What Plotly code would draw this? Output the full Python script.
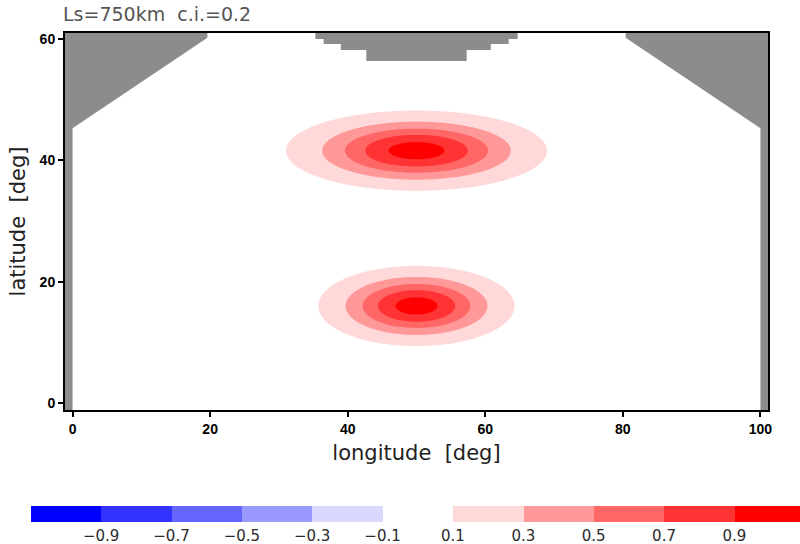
import numpy as np
import plotly.graph_objects as go

# ---- data ----
TITLE = "Ls=750km  c.i.=0.2"

# Gaussian anomaly blobs (centre, amplitude, e-folding widths in degrees)
BLOB_LON = [50.0, 50.0]
BLOB_LAT = [41.6, 16.0]
BLOB_AMP = [1.0, 1.0]
BLOB_SX = [12.5, 9.4]
BLOB_SY = [4.36, 4.36]

# contour levels (c.i. = 0.2)
LEVEL_START = -0.9
LEVEL_END = 0.9
LEVEL_STEP = 0.2
BAND_COLORS = ["#0000FF", "#3333FF", "#6666FF", "#9999FF", "#D9D9FF",
               "#FFFFFF",
               "#FFD9D9", "#FF9999", "#FF6666", "#FF3333", "#FF0000"]
CB_TICKS = [-0.9, -0.7, -0.5, -0.3, -0.1, 0.1, 0.3, 0.5, 0.7, 0.9]

# land mask outlines (lon, lat)
MASK_LEFT_LON = [-1.1, -1.1, 19.6, 19.6, 0.0, 0.0]
MASK_LEFT_LAT = [-1.15, 61.0, 61.0, 60.2, 45.3, -1.15]
MASK_MID_LON = [35.3, 35.3, 36.5, 36.5, 39.0, 39.0, 42.7, 42.7,
                57.3, 57.3, 60.8, 60.8, 63.4, 63.4, 64.7, 64.7]
MASK_MID_LAT = [61.0, 60.0, 60.0, 59.2, 59.2, 58.2, 58.2, 56.4,
                56.4, 58.2, 58.2, 59.2, 59.2, 60.0, 60.0, 61.0]
MASK_RIGHT_LON = [80.4, 80.4, 100.0, 100.0, 101.1, 101.1]
MASK_RIGHT_LAT = [61.0, 60.2, 45.3, -1.15, -1.15, 61.0]

X_RANGE = [-1.1, 101.1]
Y_RANGE = [-1.15, 61.0]
X_TICKS = [0, 20, 40, 60, 80, 100]
Y_TICKS = [0, 20, 40, 60]

# ---- field ----
lon = np.linspace(X_RANGE[0], X_RANGE[1], 410)
lat = np.linspace(Y_RANGE[0], Y_RANGE[1], 250)
LON, LAT = np.meshgrid(lon, lat)
field = np.zeros_like(LON)
for x0, y0, a, sx, sy in zip(BLOB_LON, BLOB_LAT, BLOB_AMP, BLOB_SX, BLOB_SY):
    field += a * np.exp(-((LON - x0) / sx) ** 2 - ((LAT - y0) / sy) ** 2)

n = len(BAND_COLORS)
colorscale = [[i / (n - 1), c] for i, c in enumerate(BAND_COLORS)]

fig = go.Figure()
fig.add_trace(go.Contour(
    x=lon, y=lat, z=field,
    zmin=-1.1, zmax=1.1,
    colorscale=colorscale,
    contours=dict(start=LEVEL_START, end=LEVEL_END, size=LEVEL_STEP,
                  coloring="fill", showlines=False),
    line=dict(width=0),
    hoverinfo="skip",
    colorbar=dict(
        orientation="h",
        xref="container", yref="container",
        x=35 / 800, xanchor="left",
        y=1 - 506 / 544, yanchor="top",
        lenmode="pixels", len=774,
        thickness=16,
        xpad=0, ypad=0,
        outlinewidth=0,
        tickvals=CB_TICKS,
        tickformat=".1f",
        ticks="",
        ticklabeloverflow="allow",
        tickfont=dict(family="DejaVu Sans", size=15, color="#2a2a2a"),
    ),
))

for xs, ys in [(MASK_LEFT_LON, MASK_LEFT_LAT),
               (MASK_MID_LON, MASK_MID_LAT),
               (MASK_RIGHT_LON, MASK_RIGHT_LAT)]:
    fig.add_trace(go.Scatter(
        x=xs, y=ys, mode="lines", fill="toself",
        fillcolor="#8C8C8C", line=dict(width=0, color="#8C8C8C"),
        hoverinfo="skip", showlegend=False,
    ))

axis_common = dict(
    showline=True, linewidth=2, linecolor="black", mirror=True,
    ticks="outside", ticklen=5, tickwidth=1.5, tickcolor="black",
    showgrid=False, zeroline=False, automargin=False,
    tickfont=dict(family="Liberation Sans", size=14, color="black", weight="bold"),
)

fig.update_layout(
    width=800, height=544,
    margin=dict(l=65, r=32, t=33, b=134, autoexpand=False),
    paper_bgcolor="white", plot_bgcolor="white",
    showlegend=False,
    title=dict(text=TITLE, xref="container", yref="container",
               x=63 / 800, xanchor="left", y=1 - 14 / 544, yanchor="middle",
               font=dict(family="DejaVu Sans", size=19, color="#555555")),
    xaxis=dict(range=X_RANGE, tickvals=X_TICKS,
               title=dict(text="longitude  [deg]", standoff=10,
                          font=dict(family="DejaVu Sans", size=21, color="#222222")),
               **axis_common),
    yaxis=dict(range=Y_RANGE, tickvals=Y_TICKS,
               title=dict(text="latitude  [deg]", standoff=8,
                          font=dict(family="DejaVu Sans", size=21, color="#222222")),
               **axis_common),
)

fig.write_html("out.html",
               config={"displayModeBar": False},
               post_script="document.body.style.margin='0';document.body.style.overflow='hidden';")
